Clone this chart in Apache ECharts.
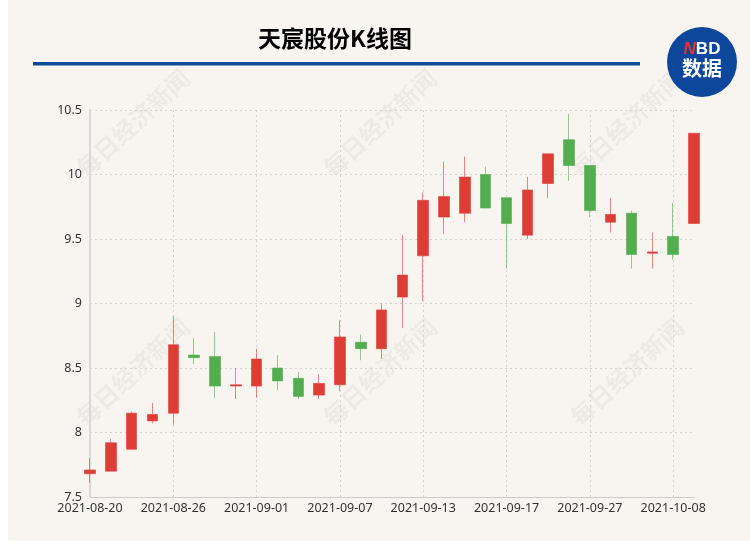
<!DOCTYPE html>
<html>
<head>
<meta charset="utf-8">
<script src="https://cdn.jsdelivr.net/npm/echarts@6/dist/echarts.min.js"></script>
<style>html,body{margin:0;padding:0;background:#fff;}#c{width:750px;height:550px;}</style>
</head>
<body>
<div id="c"></div>
<script>
var dates = ['2021-08-20','2021-08-23','2021-08-24','2021-08-25','2021-08-26','2021-08-27','2021-08-30','2021-08-31',
  '2021-09-01','2021-09-02','2021-09-03','2021-09-06','2021-09-07','2021-09-08','2021-09-09','2021-09-10',
  '2021-09-13','2021-09-14','2021-09-15','2021-09-16','2021-09-17','2021-09-22','2021-09-23','2021-09-24',
  '2021-09-27','2021-09-28','2021-09-29','2021-09-30','2021-10-08','2021-10-11'];
var openV  = [7.68,7.70,7.87,8.09,8.15,8.60,8.59,8.36,8.36,8.50,8.42,8.29,8.37,8.70,8.65,9.05,9.37,9.67,9.70,10.00,9.82,9.53,9.93,10.27,10.07,9.63,9.70,9.39,9.52,9.62];
var closeV = [7.71,7.92,8.15,8.14,8.68,8.58,8.36,8.37,8.57,8.40,8.28,8.38,8.74,8.65,8.95,9.22,9.80,9.83,9.98,9.74,9.62,9.88,10.16,10.07,9.72,9.69,9.38,9.40,9.38,10.32];
var lowV   = [7.61,7.70,7.87,8.07,8.06,8.53,8.27,8.26,8.27,8.33,8.26,8.26,8.32,8.56,8.57,8.81,9.02,9.54,9.63,9.74,9.27,9.50,9.82,9.95,9.67,9.55,9.27,9.27,9.34,9.62];
var highV  = [7.80,7.95,8.16,8.23,8.90,8.73,8.78,8.50,8.65,8.60,8.47,8.45,8.87,8.76,9.00,9.53,9.86,10.10,10.14,10.06,9.82,9.98,10.16,10.47,10.07,9.82,9.72,9.55,9.78,10.32];
var yTicks = {min: 7.5, max: 10.5, step: 0.5};
var titleText = '天宸股份K线图';
var watermark = '每日经济新闻';

var kData = dates.map(function(d, i){ return [openV[i], closeV[i], lowV[i], highV[i]]; });

var wmPos = [[133,123],[380,123],[627,123],[133,372],[380,372],[627,372]];
var graphics = [
  {type:'rect', shape:{x:8,y:0,width:742,height:541}, style:{fill:'#f8f5f1'}, z:-100, silent:true}
];
wmPos.forEach(function(p){
  graphics.push({type:'text', x:p[0], y:p[1], rotation:0.75, z:-50, silent:true,
    style:{text:watermark, fill:'rgba(120,110,100,0.08)', font:'bold 24px "Noto Sans CJK SC"', textAlign:'center', textVerticalAlign:'middle'}});
});
graphics.push({type:'text', x:335, y:38, z:10,
  style:{text:titleText, fill:'#000', font:'bold 23px "Noto Sans CJK SC"', textAlign:'center', textVerticalAlign:'middle'}});
graphics.push({type:'rect', shape:{x:33,y:62,width:607,height:3.5}, style:{fill:'#0c4a9a'}, z:10});
graphics.push({type:'circle', shape:{cx:702,cy:62,r:35}, style:{fill:'#0c479b'}, z:10});
graphics.push({type:'text', x:702, y:49, z:11,
  style:{rich:{n:{fill:'#e8332d', font:'italic bold 17px "Liberation Sans"'}, b:{fill:'#fff', font:'bold 17px "Liberation Sans"'}},
         text:'{n|N}{b|BD}', textAlign:'center', textVerticalAlign:'middle'}});
graphics.push({type:'text', x:702, y:68, z:11,
  style:{text:'数据', fill:'#fff', font:'bold 20px "Noto Sans CJK SC"', textAlign:'center', textVerticalAlign:'middle'}});

var chart = echarts.init(document.getElementById('c'), null, {renderer:'canvas'});
chart.setOption({
  backgroundColor:'#ffffff',
  animation:false,
  graphic: graphics,
  grid:{left:90, right:56, top:110, bottom:53},
  xAxis:{
    type:'category', data:dates, boundaryGap:false,
    axisLine:{lineStyle:{color:'#cccccc'}},
    axisTick:{show:false},
    axisLabel:{interval:3, color:'#333', fontSize:12.5, fontFamily:'Noto Sans', margin:5},
    splitLine:{show:true, interval:3, lineStyle:{color:'#d6d2cd', type:[2,3]}}
  },
  yAxis:{
    type:'value', min:yTicks.min, max:yTicks.max, interval:yTicks.step, scale:true,
    axisLine:{show:true, lineStyle:{color:'#d9d9d9', width:2}},
    axisTick:{show:false},
    axisLabel:{color:'#333', fontSize:12.5, fontFamily:'Noto Sans', margin:8},
    splitLine:{lineStyle:{color:'#d6d2cd', type:[2,3]}}
  },
  series:[{
    type:'candlestick', data:kData, barWidth:11,
    itemStyle:{color:'#de3d36', color0:'#51ad4e', borderColor:'rgba(222,61,54,0.6)', borderColor0:'rgba(81,173,78,0.6)', borderWidth:1}
  }]
});
</script>
</body>
</html>
